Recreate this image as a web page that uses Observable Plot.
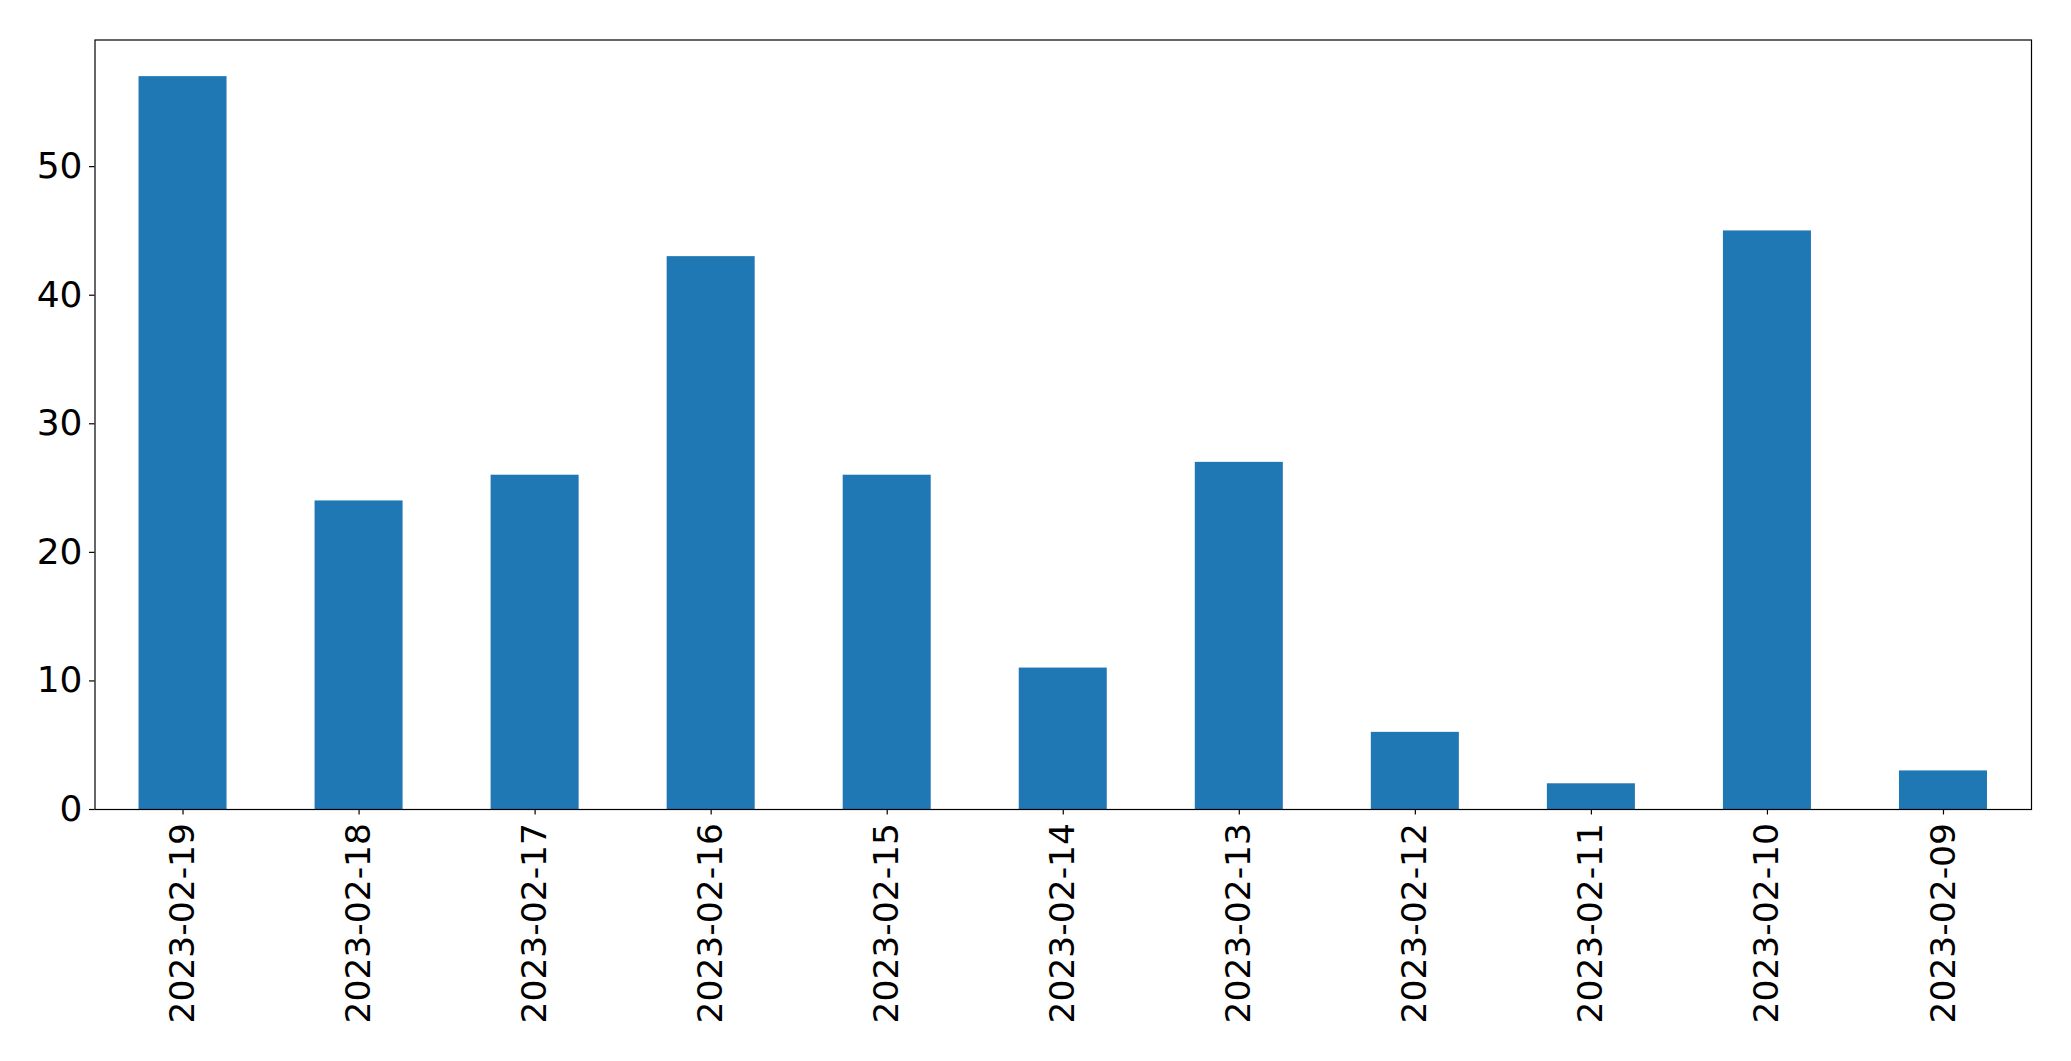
<!DOCTYPE html>
<html>
<head>
<meta charset="utf-8">
<script src="https://cdn.jsdelivr.net/npm/d3@7"></script>
<script src="https://cdn.jsdelivr.net/npm/@observablehq/plot@0.6"></script>
<style>
  html, body { margin: 0; padding: 0; background: #fff; }
  #chart svg { display: block; }
</style>
</head>
<body>
<div id="chart"></div>
<script>
const dates = ["2023-02-19","2023-02-18","2023-02-17","2023-02-16","2023-02-15","2023-02-14","2023-02-13","2023-02-12","2023-02-11","2023-02-10","2023-02-09"];
const counts = [57, 24, 26, 43, 26, 11, 27, 6, 2, 45, 3];
const yTicks = [0, 10, 20, 30, 40, 50];

const data = dates.map((d, i) => ({date: d, count: counts[i]}));

const chart = Plot.plot({
  width: 2071,
  height: 1061,
  marginLeft: 94.5,
  marginRight: 40,
  marginTop: 39.5,
  marginBottom: 252,
  style: {fontFamily: "DejaVu Sans", color: "#000", background: "#fff"},
  x: {type: "band", domain: dates, paddingInner: 0.5, paddingOuter: 0.25, round: false},
  y: {domain: [0, 59.85]},
  marks: [
    Plot.barY(data, {x: "date", y: "count", fill: "#1f77b4"}),
    Plot.frame({stroke: "#000", strokeWidth: 1.2}),
    Plot.axisY({ticks: yTicks, tickSize: 5.5, tickPadding: 7, fontSize: 36, label: null, stroke: "#000", strokeWidth: 1.2}),
    Plot.axisX({tickSize: 5.5, tickPadding: 8, tickRotate: -90, fontSize: 34.5, label: null, stroke: "#000", strokeWidth: 1.2})
  ]
});
document.getElementById("chart").appendChild(chart);
</script>
</body>
</html>
